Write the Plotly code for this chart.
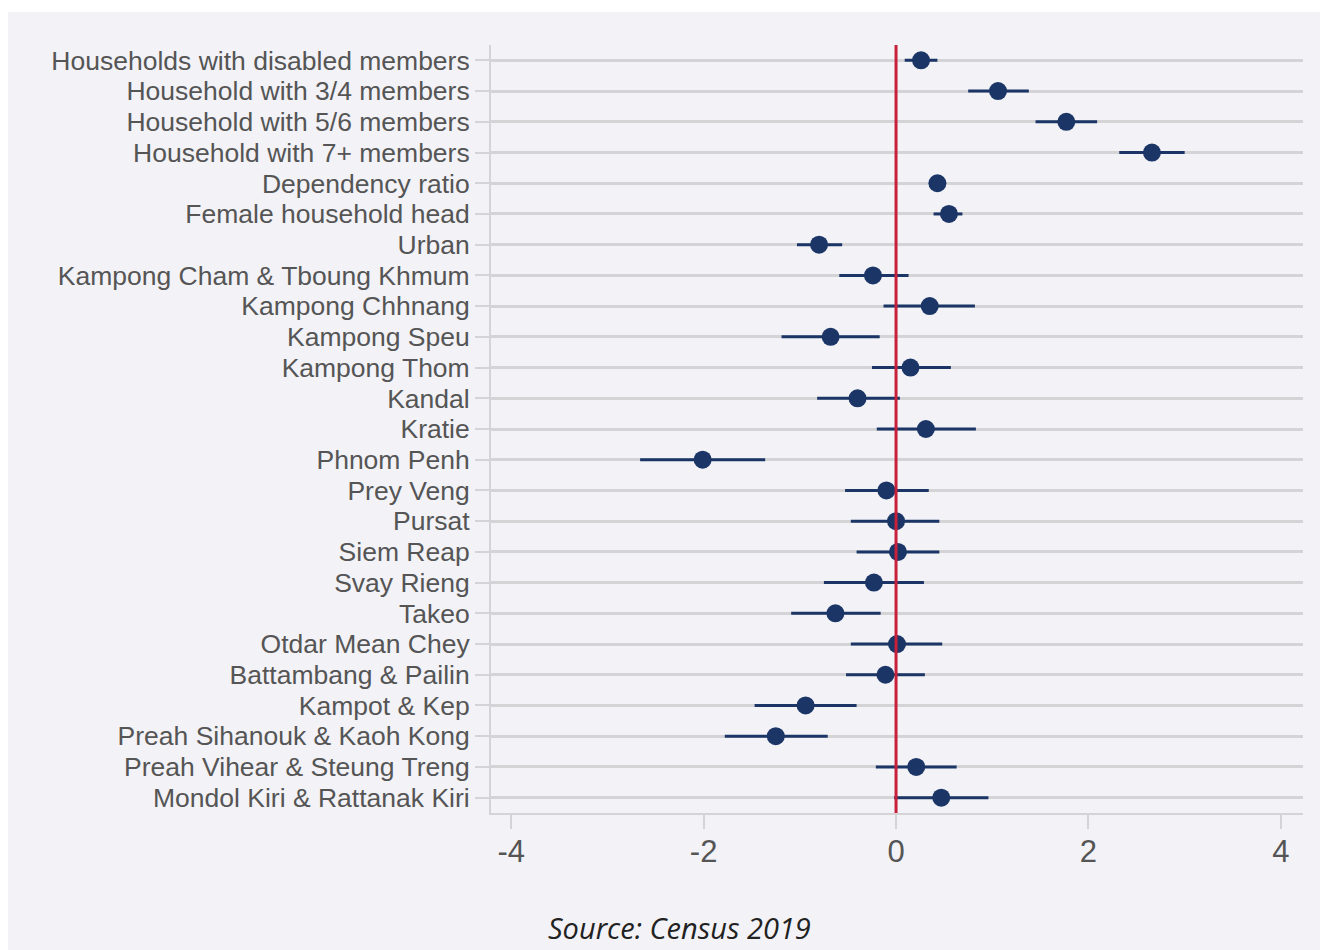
import plotly.graph_objects as go

categories = [
    "Households with disabled members",
    "Household with 3/4 members",
    "Household with 5/6 members",
    "Household with 7+ members",
    "Dependency ratio",
    "Female household head",
    "Urban",
    "Kampong Cham & Tboung Khmum",
    "Kampong Chhnang",
    "Kampong Speu",
    "Kampong Thom",
    "Kandal",
    "Kratie",
    "Phnom Penh",
    "Prey Veng",
    "Pursat",
    "Siem Reap",
    "Svay Rieng",
    "Takeo",
    "Otdar Mean Chey",
    "Battambang & Pailin",
    "Kampot & Kep",
    "Preah Sihanouk & Kaoh Kong",
    "Preah Vihear & Steung Treng",
    "Mondol Kiri & Rattanak Kiri",
]
estimate = [0.26, 1.06, 1.77, 2.66, 0.43, 0.55, -0.80, -0.24, 0.35, -0.68, 0.15, -0.40,
            0.31, -2.01, -0.10, 0.00, 0.02, -0.23, -0.63, 0.01, -0.11, -0.94, -1.25, 0.21, 0.47]
ci_low = [0.09, 0.75, 1.45, 2.32, 0.38, 0.39, -1.03, -0.59, -0.13, -1.19, -0.25, -0.82,
          -0.20, -2.66, -0.53, -0.47, -0.41, -0.75, -1.09, -0.47, -0.52, -1.47, -1.78, -0.21, -0.02]
ci_high = [0.43, 1.38, 2.09, 3.00, 0.48, 0.69, -0.56, 0.13, 0.82, -0.17, 0.57, 0.04,
           0.83, -1.36, 0.34, 0.45, 0.45, 0.29, -0.16, 0.48, 0.30, -0.41, -0.71, 0.63, 0.96]
x_ticks = [-4, -2, 0, 2, 4]

navy = "#1b3566"
panel = "#f2f2f7"
grid = "#d4d4d6"

err_plus = [h - e for h, e in zip(ci_high, estimate)]
err_minus = [e - l for e, l in zip(estimate, ci_low)]

fig = go.Figure()
fig.add_trace(go.Scatter(
    x=estimate, y=categories, mode="markers",
    marker=dict(color=navy, size=18, line=dict(width=0)),
    error_x=dict(type="data", symmetric=False, array=err_plus, arrayminus=err_minus,
                 color=navy, thickness=3, width=0),
    showlegend=False, cliponaxis=False,
))

# the page body adds an 8px margin, so the figure is 8px smaller
W, H = 1320, 942
ml, mr, mt, mb = 483, 25, 37, 137
pw, ph = W - ml - mr, H - mt - mb

# panel background
fig.add_shape(type="rect", xref="paper", yref="paper",
              x0=-ml / pw, x1=(W - ml) / pw,
              y0=-mb / ph, y1=1 + (mt - 4) / ph,
              fillcolor=panel, line=dict(width=0), layer="below")
# zero reference line
fig.add_shape(type="line", xref="x", yref="paper", x0=0, x1=0, y0=0, y1=1,
              line=dict(color="#c8203a", width=3), layer="above")

fig.add_annotation(text="<i>Source: Census 2019</i>", xref="paper", yref="paper",
                   x=(671 - ml) / pw, y=-(919 - (H - mb)) / ph, showarrow=False,
                   xanchor="center", yanchor="middle",
                   font=dict(family="Open Sans, Liberation Sans, sans-serif", size=29, color="#222222"))

fig.update_layout(
    width=W, height=H,
    margin=dict(l=ml, r=mr, t=mt, b=mb, autoexpand=False),
    paper_bgcolor="white", plot_bgcolor="rgba(0,0,0,0)",
    font=dict(family="Liberation Sans, Arial, sans-serif", color="#555555"),
)
fig.update_xaxes(
    range=[-4.21, 4.23], tickvals=x_ticks, ticktext=[str(v) for v in x_ticks],
    showgrid=False, zeroline=False, showline=True, linecolor=grid, linewidth=2,
    ticks="outside", ticklen=14, tickwidth=2, tickcolor=grid,
    tickfont=dict(size=31, color="#555555"), ticklabelstandoff=-4,
)
fig.update_yaxes(
    categoryorder="array", categoryarray=categories,
    tickmode="array", tickvals=categories, ticktext=categories,
    range=[24.5, -0.5], showgrid=True, gridcolor=grid, gridwidth=3, zeroline=False,
    showline=True, linecolor=grid, linewidth=2,
    ticks="outside", ticklen=14, tickwidth=2, tickcolor=grid,
    tickfont=dict(size=26.5, color="#555555"), ticklabelstandoff=0,
)

fig.write_html("out.html")
